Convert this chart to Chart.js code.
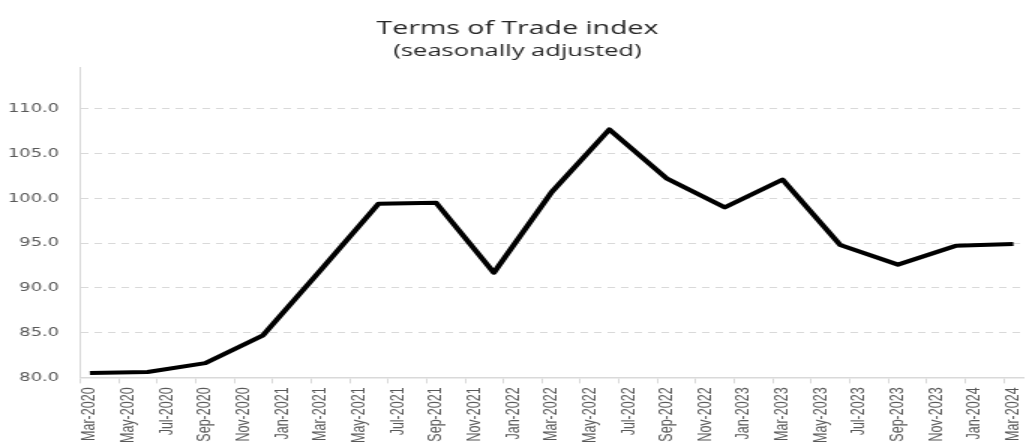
<!DOCTYPE html>
<html>
<head>
<meta charset="utf-8">
<script src="https://cdn.jsdelivr.net/npm/chart.js@4.4.1/dist/chart.umd.min.js"></script>
<style>
  html, body { margin: 0; padding: 0; background: #fff; overflow: hidden; }
  /* the reference is stretched horizontally, so draw narrow and scale x */
  #wrap {
    position: absolute; left: 0; top: 0;
    width: 684px; height: 447px;
    transform: scaleX(1.5); transform-origin: 0 0;
  }
</style>
</head>
<body>
<div id="wrap"><canvas id="totChart"></canvas></div>
<script>
// monthly category axis, labels shown every second month
const months = [
  'Mar-2020', 'Apr-2020', 'May-2020', 'Jun-2020', 'Jul-2020', 'Aug-2020', 'Sep-2020', 'Oct-2020', 'Nov-2020', 'Dec-2020',
  'Jan-2021', 'Feb-2021', 'Mar-2021', 'Apr-2021', 'May-2021', 'Jun-2021', 'Jul-2021', 'Aug-2021', 'Sep-2021', 'Oct-2021', 'Nov-2021', 'Dec-2021',
  'Jan-2022', 'Feb-2022', 'Mar-2022', 'Apr-2022', 'May-2022', 'Jun-2022', 'Jul-2022', 'Aug-2022', 'Sep-2022', 'Oct-2022', 'Nov-2022', 'Dec-2022',
  'Jan-2023', 'Feb-2023', 'Mar-2023', 'Apr-2023', 'May-2023', 'Jun-2023', 'Jul-2023', 'Aug-2023', 'Sep-2023', 'Oct-2023', 'Nov-2023', 'Dec-2023',
  'Jan-2024', 'Feb-2024', 'Mar-2024'
];

// quarterly observations
const quarters = [
  'Mar-2020', 'Jun-2020', 'Sep-2020', 'Dec-2020',
  'Mar-2021', 'Jun-2021', 'Sep-2021', 'Dec-2021',
  'Mar-2022', 'Jun-2022', 'Sep-2022', 'Dec-2022',
  'Mar-2023', 'Jun-2023', 'Sep-2023', 'Dec-2023',
  'Mar-2024'
];
const totIndex = [
  80.5, 80.6, 81.6, 84.7,
  92.0, 99.4, 99.5, 91.7,
  100.7, 107.7, 102.2, 99.0,
  102.1, 94.8, 92.6, 94.7,
  94.9
];

const yTicks = [80, 85, 90, 95, 100, 105, 110];
const yMin = 80;
const yMax = 114.6;

document.addEventListener('DOMContentLoaded', function () {
  const gray = '#d9d9d9';
  const labelGray = '#595959';

  new Chart(document.getElementById('totChart'), {
    type: 'line',
    data: {
      labels: months,
      datasets: [{
        label: 'Terms of Trade index',
        data: quarters.map((q, i) => ({ x: q, y: totIndex[i] })),
        borderColor: '#000',
        borderWidth: 4,
        borderJoinStyle: 'round',
        pointRadius: 0,
        tension: 0,
        fill: false
      }]
    },
    options: {
      responsive: true,
      maintainAspectRatio: false,
      animation: false,
      layout: { padding: { left: 6, top: 0, right: 0, bottom: 0 } },
      plugins: {
        legend: { display: false },
        tooltip: { enabled: false },
        title: {
          display: true,
          text: 'Terms of Trade index',
          color: '#262626',
          font: { family: "'Open Sans', sans-serif", size: 19, weight: 'normal', lineHeight: 1.2 },
          padding: { top: 17, bottom: 0 }
        },
        subtitle: {
          display: true,
          text: '(seasonally adjusted)',
          color: '#262626',
          font: { family: "'Open Sans', sans-serif", size: 17, weight: 'normal', lineHeight: 1.2 },
          padding: { top: 1.5, bottom: 6 }
        }
      },
      scales: {
        x: {
          type: 'category',
          offset: true,
          border: { color: gray, width: 1.5 },
          grid: {
            offset: true,
            drawOnChartArea: false,
            drawTicks: true,
            tickLength: 6,
            tickWidth: 1,
            tickColor: ctx => (ctx.index % 2 === 0 ? gray : 'rgba(0,0,0,0)')
          },
          ticks: {
            autoSkip: false,
            minRotation: 90,
            maxRotation: 90,
            padding: 4,
            color: labelGray,
            font: { family: "'Liberation Sans', sans-serif", size: 12.5 },
            callback: function (value, index) {
              return index % 2 === 0 ? this.getLabelForValue(value) : '';
            }
          },
          afterFit: axis => {
            // let the plot run to the edges like the original
            axis.paddingLeft = 0;
            axis.paddingRight = 0;
          }
        },
        y: {
          min: yMin,
          max: yMax,
          border: { color: gray, width: 1, dash: [5, 4] },
          afterBuildTicks: axis => {
            axis.ticks = yTicks.map(v => ({ value: v }));
          },
          afterFit: axis => {
            axis.width = 47.5;
          },
          grid: {
            color: gray,
            lineWidth: 1,
            drawTicks: false
          },
          ticks: {
            padding: 14,
            color: labelGray,
            font: { family: "'DejaVu Sans', sans-serif", size: 12 },
            callback: v => v.toFixed(1)
          }
        }
      }
    }
  });
});
</script>
</body>
</html>
